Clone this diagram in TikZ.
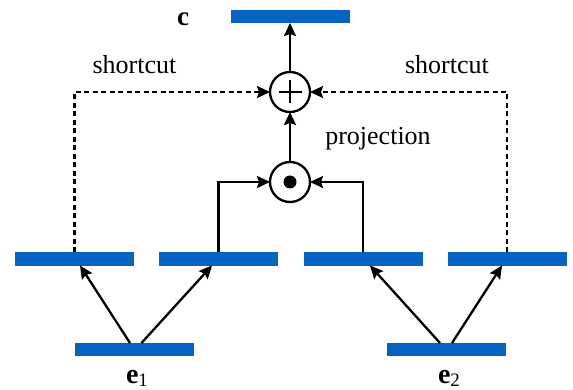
\documentclass[tikz,border=0pt]{standalone}
\usepackage{fontspec}
\setmainfont{Liberation Serif}
\usetikzlibrary{arrows.meta,calc}
\definecolor{barblue}{RGB}{5,99,193}
\begin{document}
\begin{tikzpicture}[x=1pt,y=-1pt,
  bar/.style={rectangle,fill=barblue,minimum width=119pt,minimum height=13pt,inner sep=0pt,outer sep=0pt},
  op/.style={circle,draw,line width=2.3pt,minimum size=40pt,inner sep=0pt,outer sep=0pt},
  arr/.style={line width=2.3pt,-{Stealth[length=13pt,width=12pt,inset=2pt]}},
  dasharr/.style={arr,dash pattern=on 5pt off 3.5pt},
  lbl/.style={font=\fontsize{26}{30}\selectfont,anchor=base,inner sep=0pt}]
\useasboundingbox (0,0) rectangle (573,390);
% bars
\node[bar] (c) at (290,16.5) {};
\node[bar] (b1) at (74.5,259) {};
\node[bar] (b2) at (218.5,259) {};
\node[bar] (b3) at (363,259) {};
\node[bar] (b4) at (507,259) {};
\node[bar] (e1) at (134.5,349.5) {};
\node[bar] (e2) at (446.5,349.5) {};
% operators
\node[op] (plus) at (290,92) {};
\node[op] (dot) at (290,182) {};
\draw[line width=2.3pt] ($(plus.center)+(-11.5,0)$) -- ($(plus.center)+(11.5,0)$)
  ($(plus.center)+(0,-11.5)$) -- ($(plus.center)+(0,11.5)$);
\fill ($(dot.center)$) circle (6.5pt);
% labels
\node[lbl,font=\fontsize{27}{30}\selectfont\bfseries] (cl) at (183,26) {c};
\node[lbl] (s1) at (134.5,74) {shortcut};
\node[lbl] (s2) at (447,74) {shortcut};
\node[lbl] (pj) at (378,145) {projection};
\node[lbl,font=\fontsize{28}{30}\selectfont] (e1l) at (137,383) {\textbf{e}\raisebox{-0.12em}{\fontsize{19}{19}\selectfont 1}};
\node[lbl,font=\fontsize{28}{30}\selectfont] (e2l) at (449,383) {\textbf{e}\raisebox{-0.12em}{\fontsize{19}{19}\selectfont 2}};
% arrows from e bars
\draw[arr] ($(e1.north)+(-4.5,0)$) -- ($(b1.south)+(5.5,0)$);
\draw[arr] ($(e1.north)+(7,0)$) -- ($(b2.south)+(-6.5,0)$);
\draw[arr] ($(e2.north)+(-6.5,0)$) -- ($(b3.south)+(7,0)$);
\draw[arr] ($(e2.north)+(5.5,0)$) -- ($(b4.south)+(-5,0)$);
% projection
\draw[arr] (b2.north) |- (dot.west);
\draw[arr] (b3.north) |- (dot.east);
\draw[arr] (dot.north) -- (plus.south);
\draw[arr] (plus.north) -- (c.south);
% shortcuts
\draw[dasharr] (b1.north) |- (plus.west);
\draw[dasharr] (b4.north) |- (plus.east);
\end{tikzpicture}
\end{document}
